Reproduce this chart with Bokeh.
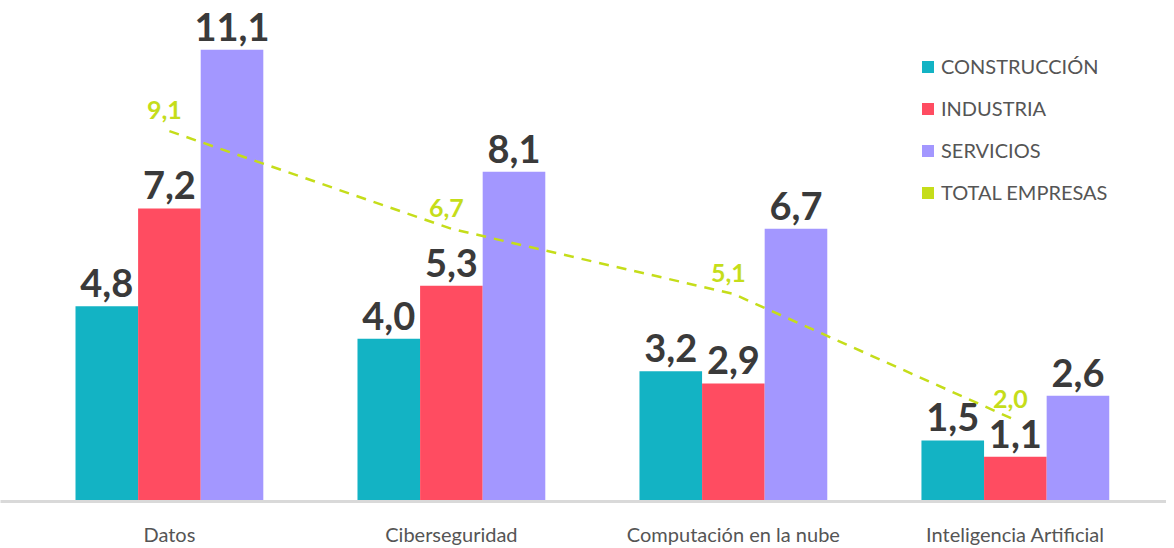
from bokeh.plotting import figure
from bokeh.models import ColumnDataSource, Range1d, FixedTicker, Legend, LegendItem
from bokeh.core.properties import value
from bokeh.embed import file_html
from bokeh.resources import INLINE

categories = ["Datos", "Ciberseguridad", "Computación en la nube", "Inteligencia Artificial"]
construccion = [4.8, 4.0, 3.2, 1.5]
industria = [7.2, 5.3, 2.9, 1.1]
servicios = [11.1, 8.1, 6.7, 2.6]
total = [9.1, 6.7, 5.1, 2.0]

series_names = ["CONSTRUCCIÓN", "INDUSTRIA", "SERVICIOS"]
colors = ["#13B3C4", "#FF4C61", "#A397FF"]
green = "#C5DD1A"
FONT = "Lato"

def fmt(v):
    return f"{v:.1f}".replace(".", ",")

p = figure(frame_width=1166, frame_height=501, output_backend="svg", toolbar_location=None,
           x_range=Range1d(-0.599, 3.536), y_range=Range1d(0, 12.31),
           y_axis_location=None, min_border=0, outline_line_color=None)
p.xgrid.visible = False
p.ygrid.visible = False

xs = list(range(len(categories)))
bw = 0.222
offsets = [-bw, 0.0, bw]
items = []
for vals, name, col, off in zip([construccion, industria, servicios], series_names, colors, offsets):
    src = ColumnDataSource(dict(x=[x + off for x in xs], top=vals, lab=[fmt(v) for v in vals]))
    r = p.vbar(x="x", top="top", width=bw, source=src, fill_color=col, line_color=None)
    p.text(x="x", y="top", text="lab", source=src, text_align="center", text_baseline="alphabetic",
           y_offset=-23, text_font=value(FONT), text_font_style="bold", text_font_size="38px",
           text_color="#3a3a3a")
    items.append(LegendItem(label=name, renderers=[r]))

tsrc = ColumnDataSource(dict(x=xs, y=total, lab=[fmt(v) for v in total]))
p.line(x="x", y="y", source=tsrc, line_color=green, line_width=2.5, line_dash="10 8")
p.text(x="x", y="y", text="lab", source=tsrc, text_align="center", text_baseline="alphabetic",
       x_offset=-5, y_offset=-21, text_font=value(FONT), text_font_style="bold", text_font_size="25px",
       text_color=green)
gleg = p.vbar(x="x", top="y", width=0, source=tsrc, fill_color=green, line_color=None)
items.append(LegendItem(label="TOTAL EMPRESAS", renderers=[gleg]))

legend = Legend(items=items, location=(920, 297), padding=0, margin=0, spacing=18,
                glyph_width=15, glyph_height=15, label_height=20, label_standoff=6,
                label_text_font=FONT, label_text_font_size="20px", label_text_color="#555555",
                border_line_color=None, background_fill_alpha=0)
p.add_layout(legend)

ax = p.xaxis[0]
ax.ticker = FixedTicker(ticks=xs)
ax.major_label_overrides = {i: c for i, c in enumerate(categories)}
ax.major_tick_line_color = None
ax.minor_tick_line_color = None
ax.axis_line_color = "#d9d9d9"
ax.axis_line_width = 3
ax.major_label_standoff = 14
ax.major_label_text_font = FONT
ax.major_label_text_font_size = "20px"
ax.major_label_text_color = "#555555"

open("out.html", "w").write(file_html(p, INLINE))
